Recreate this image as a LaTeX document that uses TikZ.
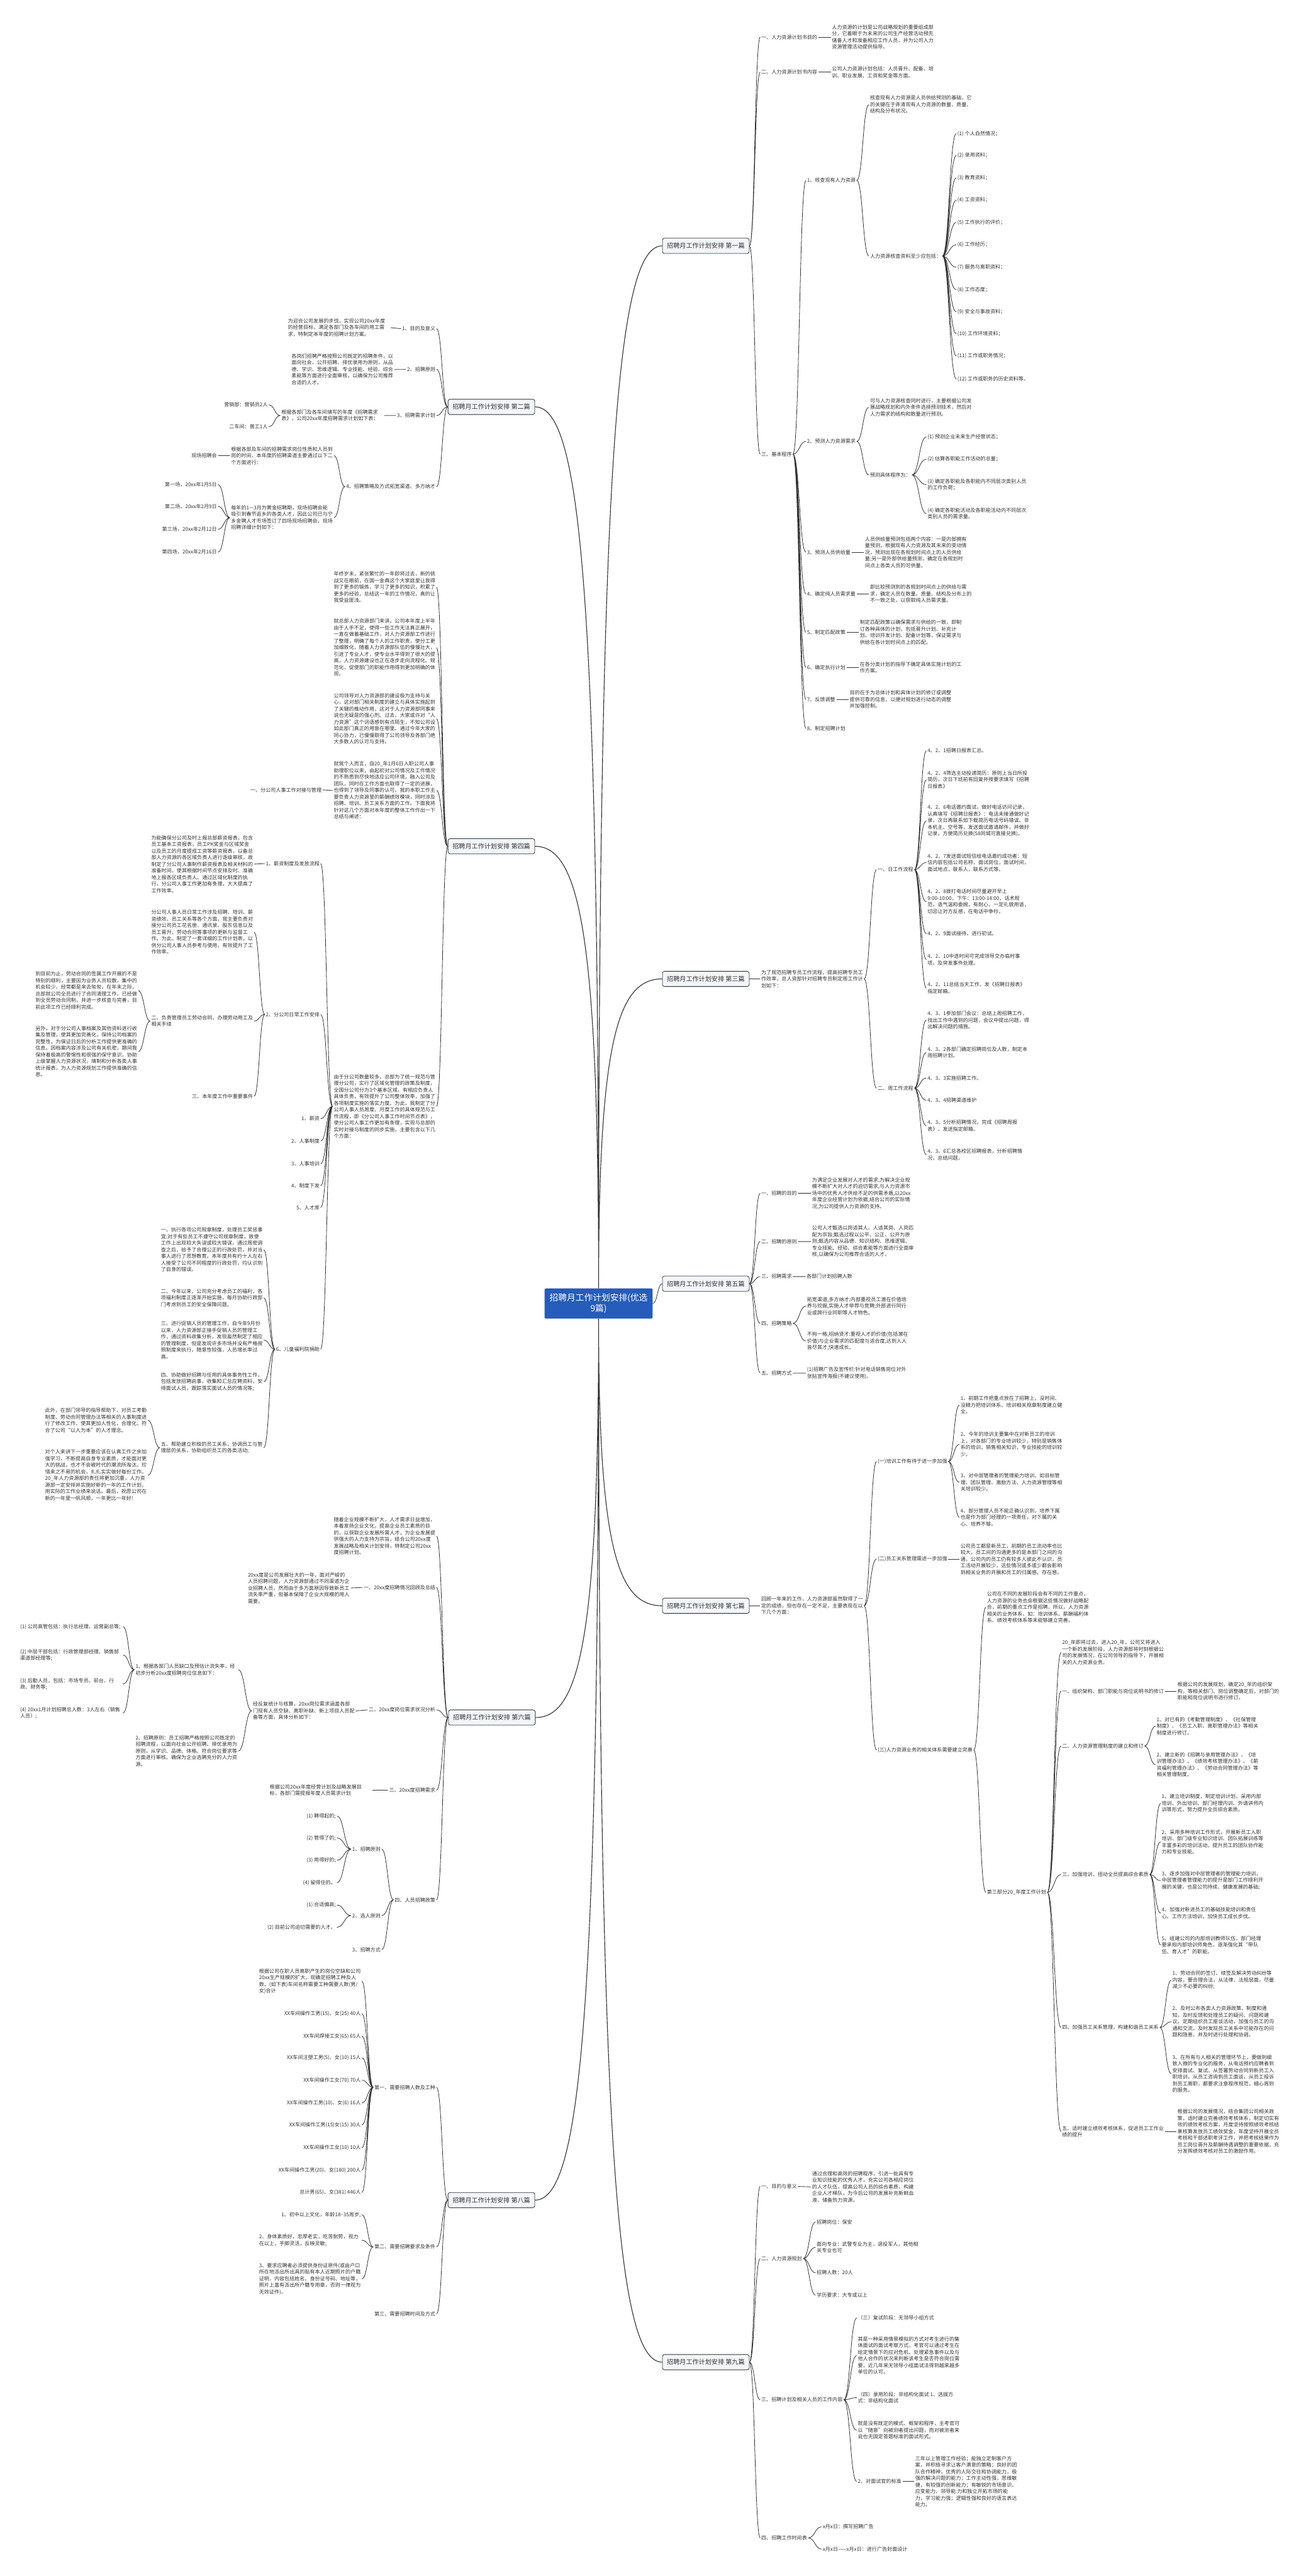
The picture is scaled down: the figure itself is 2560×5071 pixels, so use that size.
\documentclass[tikz,border=0pt]{standalone}
\usepackage{fontspec}
\setmainfont{Noto Sans CJK SC}
\XeTeXlinebreaklocale "zh"
\XeTeXlinebreakskip=0pt plus 1pt
\usetikzlibrary{calc}
\definecolor{rootblue}{RGB}{38,92,186}
\definecolor{ink}{RGB}{51,51,51}
\definecolor{topicfill}{RGB}{242,245,249}

\begin{document}
\begin{tikzpicture}[x=1pt,y=-1pt,
  every node/.style={inner xsep=2pt,inner ysep=0pt,text=ink,font=\fontsize{10}{13}\selectfont},
  para/.style={text width=200pt,align=flush left},
  topic/.style={draw=ink,line width=1pt,rounded corners=4pt,fill=topicfill,
    inner xsep=9pt,minimum height=30pt,font=\fontsize{12.5}{15}\selectfont},
  rootnode/.style={fill=rootblue,text=white,rounded corners=3pt,align=center,
    inner xsep=10pt,inner ysep=10pt,font=\fontsize{17}{22}\selectfont},
  link/.style={ink,line width=1pt,
    to path={.. controls ($(\tikztostart)!0.5!(\tikztotarget|-\tikztostart)$)
      and ($(\tikztotarget)!0.5!(\tikztostart|-\tikztotarget)$) .. (\tikztotarget)}},
  trunk/.style={ink,line width=1.4pt,
    to path={.. controls ($(\tikztostart)!0.8!(\tikztostart|-\tikztotarget)$)
      and ($(\tikztotarget)!0.7!(\tikztostart|-\tikztotarget)$) .. (\tikztotarget)}}]
\useasboundingbox[fill=white] (0,0) rectangle (2560,5071);

% centre and the nine topics
\node[rootnode] (root) at (1178,2566) {招聘月工作计划安排(优选\\9篇)};
\node[topic] (t1) at (1389,484) {招聘月工作计划安排 第一篇};
\node[topic] (t2) at (967,801) {招聘月工作计划安排 第二篇};
\node[topic] (t3) at (1389,1927) {招聘月工作计划安排 第三篇};
\node[topic] (t4) at (967,1666) {招聘月工作计划安排 第四篇};
\node[topic] (t5) at (1389,2527) {招聘月工作计划安排 第五篇};
\node[topic] (t6) at (968,3381) {招聘月工作计划安排 第六篇};
\node[topic] (t7) at (1389,3161) {招聘月工作计划安排 第七篇};
\node[topic] (t8) at (967,4331) {招聘月工作计划安排 第八篇};
\node[topic] (t9) at (1389,4650) {招聘月工作计划安排 第九篇};

\draw[trunk] (root.north) to (t1.west) (root.north) to (t3.west)
  (root.north) to (t2.east) (root.north) to (t4.east)
  (root.south) to (t7.west) (root.south) to (t9.west)
  (root.south) to (t6.east) (root.south) to (t8.east);
\draw[link] (root.east) to (t5.west);

% 第一篇
\node[anchor=west] (t1a) at (1496,73) {一、人力资源计划书目的};
\node[para,anchor=west] (t1a1) at (1635,73) {人力资源的计划是公司战略规划的重要组成部分，它着眼于为未来的公司生产经营活动预先储备人才和准备相应工作人员，并为公司人力资源管理活动提供指导。};
\node[anchor=west] (t1b) at (1496,142) {二、人力资源计划书内容};
\node[para,anchor=west] (t1b1) at (1635,142) {公司人力资源计划包括：人员晋升、配备、培训、职业发展、工资和奖金等方面。};
\node[anchor=west] (t1c) at (1496,894) {三、基本程序};
\node[anchor=west] (t1c1) at (1586,355) {1、核查现有人力资源};
\node[para,anchor=west] (t1c1a) at (1710,206) {核查现有人力资源是人员供给预测的基础，它的关键在于弄清现有人力资源的数量、质量、结构及分布状况。};
\node[anchor=west] (t1c1b) at (1710,504) {人力资源核查资料至少应包括：};
\node[anchor=west] (t1c1b1) at (1882,263) {(1) 个人自然情况；};
\node[anchor=west] (t1c1b2) at (1882,306) {(2) 录用资料；};
\node[anchor=west] (t1c1b3) at (1882,350) {(3) 教育资料；};
\node[anchor=west] (t1c1b4) at (1882,394) {(4) 工资资料；};
\node[anchor=west] (t1c1b5) at (1882,438) {(5) 工作执行的评价；};
\node[anchor=west] (t1c1b6) at (1882,482) {(6) 工作经历；};
\node[anchor=west] (t1c1b7) at (1882,526) {(7) 服务与离职资料；};
\node[anchor=west] (t1c1b8) at (1882,570) {(8) 工作态度；};
\node[anchor=west] (t1c1b9) at (1882,614) {(9) 安全与事故资料；};
\node[anchor=west] (t1c1b10) at (1882,657) {(10) 工作环境资料；};
\node[anchor=west] (t1c1b11) at (1882,701) {(11) 工作或职务情况；};
\node[anchor=west] (t1c1b12) at (1882,746) {(12) 工作或职务的历史资料等。};
\node[anchor=west] (t1c2) at (1586,869) {2、预测人力资源需求};
\node[para,anchor=west] (t1c2a) at (1710,802) {可与人力资源核查同时进行，主要根据公司发展战略规划和内外条件选择预测技术，然后对人力需求的结构和数量进行预测。};
\node[anchor=west] (t1c2b) at (1710,935) {预测具体程序为：};
\node[anchor=west] (t1c2b1) at (1823,860) {(1) 预测企业未来生产经营状态；};
\node[anchor=west] (t1c2b2) at (1823,904) {(2) 估算各职能工作活动的总量；};
\node[para,anchor=west] (t1c2b3) at (1823,954) {(3) 确定各职能及各职能内不同层次类别人员的工作负荷；};
\node[para,anchor=west] (t1c2b4) at (1823,1011) {(4) 确定各职能活动及各职能活动内不同层次类别人员的需求量。};
\node[anchor=west] (t1c3) at (1586,1087) {3、预测人员供给量};
\node[para,anchor=west] (t1c3a) at (1700,1087) {人员供给量预测包括两个内容：一是内部拥有量预测，根据现有人力资源及其未来的变动情况，预测出现在各规划时间点上的人员供给量;另一是外部供给量预测，确定在各规划时间点上各类人员的可供量。};
\node[anchor=west] (t1c4) at (1586,1169) {4、确定纯人员需求量};
\node[para,anchor=west] (t1c4a) at (1710,1169) {即比较预测到的各规划时间点上的供给与需求，确定人员在数量、质量、结构及分布上的不一致之处，以获取纯人员需求量。};
\node[anchor=west] (t1c5) at (1586,1245) {5、制定匹配政策};
\node[para,anchor=west] (t1c5a) at (1690,1245) {制定匹配政策以确保需求与供给的一致，即制订各种具体的计划，包括晋升计划、补充计划、培训开发计划、配备计划等，保证需求与供给在各计划时间点上的匹配。};
\node[anchor=west] (t1c6) at (1586,1314) {6、确定执行计划};
\node[para,anchor=west] (t1c6a) at (1690,1314) {在各分类计划的指导下确定具体实施计划的工作方案。};
\node[anchor=west] (t1c7) at (1586,1377) {7、反馈调整};
\node[para,anchor=west] (t1c7a) at (1670,1377) {目的在于为总体计划和具体计划的修订或调整提供可靠的信息，以便对规划进行动态的调整并加强控制。};
\node[anchor=west] (t1c8) at (1586,1434) {8、制定招聘计划};

\draw[link] (t1.east) to (t1a.west) (t1.east) to (t1b.west) (t1.east) to (t1c.west);
\draw[link] (t1a.east) to (t1a1.west) (t1b.east) to (t1b1.west);
\draw[link] (t1c.east) to (t1c1.west) (t1c.east) to (t1c2.west) (t1c.east) to (t1c3.west)
  (t1c.east) to (t1c4.west) (t1c.east) to (t1c5.west) (t1c.east) to (t1c6.west)
  (t1c.east) to (t1c7.west) (t1c.east) to (t1c8.west);
\draw[link] (t1c1.east) to (t1c1a.west) (t1c1.east) to (t1c1b.west);
\draw[link] (t1c1b.east) to (t1c1b1.west) (t1c1b.east) to (t1c1b2.west)
  (t1c1b.east) to (t1c1b3.west) (t1c1b.east) to (t1c1b4.west)
  (t1c1b.east) to (t1c1b5.west) (t1c1b.east) to (t1c1b6.west)
  (t1c1b.east) to (t1c1b7.west) (t1c1b.east) to (t1c1b8.west)
  (t1c1b.east) to (t1c1b9.west) (t1c1b.east) to (t1c1b10.west)
  (t1c1b.east) to (t1c1b11.west) (t1c1b.east) to (t1c1b12.west);
\draw[link] (t1c2.east) to (t1c2a.west) (t1c2.east) to (t1c2b.west);
\draw[link] (t1c2b.east) to (t1c2b1.west) (t1c2b.east) to (t1c2b2.west)
  (t1c2b.east) to (t1c2b3.west) (t1c2b.east) to (t1c2b4.west);
\draw[link] (t1c3.east) to (t1c3a.west) (t1c4.east) to (t1c4a.west)
  (t1c5.east) to (t1c5a.west) (t1c6.east) to (t1c6a.west) (t1c7.east) to (t1c7a.west);

% 第三篇
\node[para,anchor=west] (t3a) at (1496,1927) {为了规范招聘专员工作流程，提高招聘专员工作效率，总人资部针对招聘专员制定周工作计划如下：};
\node[anchor=west] (t3a1) at (1725,1712) {一、日工作流程};
\node[anchor=west] (t3a1a) at (1823,1478) {4、2、1招聘日报表汇总。};
\node[para,anchor=west] (t3a1b) at (1823,1535) {4、2、4筛选主动投递简历：原则上当日所投简历，次日下班前有回复并按要求填写《招聘日报表》};
\node[para,anchor=west] (t3a1c) at (1823,1616) {4、2、6电话邀约面试，做好电话访问记录，认真填写《招聘日报表》：电话未接通做好记录，次日再联系如下载简历电话号码错误、非本机主、空号等，发送面试邀请邮件，并做好记录，方便简历兑换(58同城可直接兑换)。};
\node[para,anchor=west] (t3a1d) at (1823,1698) {4、2、7发送面试短信给电话邀约成功者：短信内容包括公司名称，面试岗位，面试时间，面试地点，联系人，联系方式等。};
\node[para,anchor=west] (t3a1e) at (1823,1775) {4、2、8拨打电话时间尽量避开早上9:00-10:00，下午：13:00-14:00，话术规范，语气温和委婉，有耐心，一定礼貌用语，切忌让对方反感，在电话中争吵。};
\node[anchor=west] (t3a1f) at (1823,1838) {4、2、9面试接待，进行初试。};
\node[para,anchor=west] (t3a1g) at (1823,1889) {4、2、10中途时间可完成领导交办临时事项，及突发事件处理。};
\node[para,anchor=west] (t3a1h) at (1823,1945) {4、2、11总结当天工作，发《招聘日报表》指定邮箱。};
\node[anchor=west] (t3a2) at (1725,2142) {二、周工作流程};
\node[para,anchor=west] (t3a2a) at (1823,2008) {4、3、1参加部门会议：总结上周招聘工作，找出工作中遇到的问题，会议中提出问题，得出解决问题的措施。};
\node[para,anchor=west] (t3a2b) at (1823,2072) {4、3、2各部门确定招聘岗位及人数，制定本周招聘计划。};
\node[anchor=west] (t3a2c) at (1823,2122) {4、3、3实施招聘工作。};
\node[anchor=west] (t3a2d) at (1823,2166) {4、3、4招聘渠道维护};
\node[para,anchor=west] (t3a2e) at (1823,2216) {4、3、5分析招聘情况，完成《招聘周报表》，发送指定邮箱。};
\node[para,anchor=west] (t3a2f) at (1823,2273) {4、3、6汇总各校区招聘报表，分析招聘情况，总结问题。};

\draw[link] (t3.east) to (t3a.west);
\draw[link] (t3a.east) to (t3a1.west) (t3a.east) to (t3a2.west);
\draw[link] (t3a1.east) to (t3a1a.west) (t3a1.east) to (t3a1b.west) (t3a1.east) to (t3a1c.west)
  (t3a1.east) to (t3a1d.west) (t3a1.east) to (t3a1e.west) (t3a1.east) to (t3a1f.west)
  (t3a1.east) to (t3a1g.west) (t3a1.east) to (t3a1h.west);
\draw[link] (t3a2.east) to (t3a2a.west) (t3a2.east) to (t3a2b.west) (t3a2.east) to (t3a2c.west)
  (t3a2.east) to (t3a2d.west) (t3a2.east) to (t3a2e.west) (t3a2.east) to (t3a2f.west);

% 第五篇
\node[anchor=west] (t5a) at (1496,2349) {一、招聘的目的};
\node[para,anchor=west] (t5a1) at (1596,2349) {为满足企业发展对人才的需求,为解决企业规模不断扩大对人才的迫切需求,与人力资源市场中的优秀人才供给不足的供需矛盾,以20xx年度企业经营计划为依据,结合公司的实际情况,为公司提供人力资源的支持。};
\node[anchor=west] (t5b) at (1496,2444) {二、招聘的原则};
\node[para,anchor=west] (t5b1) at (1596,2444) {公司人才甄选以岗适其人、人适其岗、人岗匹配为宗旨;甄选过程以公平、公正、公开为原则;甄选内容从品德、知识结构、思维逻辑、专业技能、经验、综合素能等方面进行全面审核,以确保为公司推荐合适的人才。};
\node[anchor=west] (t5c) at (1496,2513) {三、招聘需求};
\node[anchor=west] (t5c1) at (1585,2513) {各部门计划招聘人数};
\node[anchor=west] (t5d) at (1496,2605) {四、招聘策略};
\node[para,anchor=west] (t5d1) at (1586,2571) {拓宽渠道,多方纳才:内部重视员工潜在价值培养与挖掘,实施人才举荐与竞聘;外部进行同行业或跨行业同职等人才物色。};
\node[para,anchor=west] (t5d2) at (1586,2640) {不拘一格,招纳贤才:重视人才的价值(包括潜在价值)与企业需求的匹配度与适合度,达到人人皆尽其才,快速成长。};
\node[anchor=west] (t5e) at (1496,2703) {五、招聘方式};
\node[para,anchor=west] (t5e1) at (1586,2703) {(1)招聘广告及宣传栏:针对电话销售岗位对外张贴宣传海报(不建议使用)。};

\draw[link] (t5.east) to (t5a.west) (t5.east) to (t5b.west) (t5.east) to (t5c.west)
  (t5.east) to (t5d.west) (t5.east) to (t5e.west);
\draw[link] (t5a.east) to (t5a1.west) (t5b.east) to (t5b1.west) (t5c.east) to (t5c1.west)
  (t5d.east) to (t5d1.west) (t5d.east) to (t5d2.west) (t5e.east) to (t5e1.west);

% 第七篇
\node[para,anchor=west] (t7a) at (1496,3161) {回顾一年来的工作，人力资源部虽然取得了一定的成绩，但也存在一定不足，主要表现在以下几个方面：};
\node[anchor=west] (t7a1) at (1725,2877) {(一)培训工作有待于进一步加强};
\node[para,anchor=west] (t7a1a) at (1888,2766) {1、前期工作把重点放在了招聘上，没时间、没精力把培训体系、培训相关规章制度建立健全。};
\node[para,anchor=west] (t7a1b) at (1888,2843) {2、今年的培训主要集中在对新员工的培训上，对各部门的专业培训较少，特别是销售体系的培训，销售相关知识，专业技能的培训较少。};
\node[para,anchor=west] (t7a1c) at (1888,2918) {3、对中层管理者的管理能力培训，如目标管理、团队管理、激励方法、人力资源管理等相关培训较少。};
\node[para,anchor=west] (t7a1d) at (1888,2987) {4、部分管理人员不能正确认识到，培养下属也是作为部门经理的一项责任，对下属的关心、培养不够。};
\node[anchor=west] (t7a2) at (1725,3069) {(二)员工关系管理需进一步加强};
\node[para,anchor=west] (t7a2a) at (1888,3069) {公司员工都是新员工，前期的员工流动率也比较大，员工间的沟通更多的是本部门之间的沟通，公司内的员工仍有较多人彼此不认识，员工活动开展较少，这些情况或多或少都会影响到相关业务的开展和员工的归属感、存在感。};
\node[anchor=west] (t7a3) at (1725,3445) {(三)人力资源业务的相关体系需要建立完善};
\node[para,anchor=west] (t7a3a) at (1940,3164) {公司在不同的发展阶段会有不同的工作重点，人力资源的业务也会根据这些情况做好战略配合，前期的重点工作是招聘，所以，人力资源相关的业务体系，如：培训体系、薪酬福利体系、绩效考核体系等未能够建立完善。};
\node[anchor=west] (t7a3b) at (1940,3725) {第三部分20\_年度工作计划};
\node[para,anchor=west] (t7b0) at (2088,3253) {20\_年即将过去，进入20\_年，公司又将进入一个新的发展阶段，人力资源部将时刻根据公司的发展情况，在公司领导的指导下，开展相关的人力资源业务。};
\node[anchor=west] (t7b1) at (2088,3329) {一、组织架构、部门职能与岗位说明书的修订};
\node[para,anchor=west] (t7b1a) at (2315,3329) {根据公司的发展规划，确定20\_年的组织架构，等相关部门、岗位调整确定后，对部门的职能和岗位说明书进行修订。};
\node[anchor=west] (t7b2) at (2088,3437) {二、人力资源管理制度的建立和修订};
\node[para,anchor=west] (t7b2a) at (2274,3398) {1、对已有的《考勤管理制度》、《社保管理制度》、《员工入职、离职管理办法》等相关制度进行修订。};
\node[para,anchor=west] (t7b2b) at (2274,3474) {2、建立新的《招聘与录用管理办法》、《培训管理办法》、《绩效考核管理办法》、《薪资福利管理办法》、《劳动合同管理办法》等相关管理制度。};
\node[anchor=west] (t7b3) at (2088,3690) {三、加强培训，扭动全员提高综合素质};
\node[para,anchor=west] (t7b3a) at (2284,3550) {1、建立培训制度，制定培训计划，采用内部培训、外出培训、部门经理内训、外请讲师内训等形式，努力提升全员综合素质。};
\node[para,anchor=west] (t7b3b) at (2284,3626) {2、采用多种培训工作形式，开展新员工入职培训、部门级专业知识培训、团队拓展训练等丰富多彩的培训活动，提升员工的团队协作能力和专业技能。};
\node[para,anchor=west] (t7b3c) at (2284,3702) {3、逐步加强对中层管理者的管理能力培训，中层管理者管理能力的提升是部门工作顺利开展的关键，也是公司持续、健康发展的基础;};
\node[para,anchor=west] (t7b3d) at (2284,3766) {4、加强对新进员工的基础技能培训和责任心、工作方法培训，加快员工成长步伐。};
\node[para,anchor=west] (t7b3e) at (2284,3829) {5、组建公司的内部培训教师队伍，部门经理要承担内部培训师角色，逐渐强化其“带队伍、育人才”的职能。};
\node[anchor=west] (t7b4) at (2088,3991) {四、加强员工关系管理，构建和谐员工关系};
\node[para,anchor=west] (t7b4a) at (2305,3898) {1、劳动合同的签订、续签及解决劳动纠纷等内容，要合理合法，从法律、法规层面，尽量减少不必要的纠纷;};
\node[para,anchor=west] (t7b4b) at (2305,3980) {2、及时公布各类人力资源政策、制度和通知，及时反馈和处理员工的疑问、问题和建议。定期组织员工座谈活动，加强与员工的沟通和交流，及时发现员工关系中可能存在的问题和隐患，并及时进行处理和协调。};
\node[para,anchor=west] (t7b4c) at (2305,4082) {3、在所有与人相关的管理环节上，要做到细致入微的专业化的服务，从电话预约应聘者到安排面试、复试，从签署劳动合同到新员工入职培训，从员工咨询到员工面谈，从员工投诉到员工离职，都要求注意程序规范，细心周到的服务。};
\node[para,anchor=west] (t7b5) at (2088,4196) {五、适时建立绩效考核体系，促进员工工作业绩的提升};
\node[para,anchor=west] (t7b5a) at (2315,4196) {根据公司的发展情况，结合集团公司相关政策，适时建立完善绩效考核体系，制定切实有效的绩效考核方案，月度坚持按照绩效考核结果核算发放员工绩效奖金，年度坚持开展全员考核和干部述职考评工作，并把考核结果作为员工岗位晋升及薪酬待遇调整的重要依据，充分发挥绩效考核对员工的激励作用。};

\draw[link] (t7.east) to (t7a.west);
\draw[link] (t7a.east) to (t7a1.west) (t7a.east) to (t7a2.west) (t7a.east) to (t7a3.west);
\draw[link] (t7a1.east) to (t7a1a.west) (t7a1.east) to (t7a1b.west)
  (t7a1.east) to (t7a1c.west) (t7a1.east) to (t7a1d.west);
\draw[link] (t7a2.east) to (t7a2a.west);
\draw[link] (t7a3.east) to (t7a3a.west) (t7a3.east) to (t7a3b.west);
\draw[link] (t7a3b.east) to (t7b0.west) (t7a3b.east) to (t7b1.west) (t7a3b.east) to (t7b2.west)
  (t7a3b.east) to (t7b3.west) (t7a3b.east) to (t7b4.west) (t7a3b.east) to (t7b5.west);
\draw[link] (t7b1.east) to (t7b1a.west) (t7b5.east) to (t7b5a.west);
\draw[link] (t7b2.east) to (t7b2a.west) (t7b2.east) to (t7b2b.west);
\draw[link] (t7b3.east) to (t7b3a.west) (t7b3.east) to (t7b3b.west) (t7b3.east) to (t7b3c.west)
  (t7b3.east) to (t7b3d.west) (t7b3.east) to (t7b3e.west);
\draw[link] (t7b4.east) to (t7b4a.west) (t7b4.east) to (t7b4b.west) (t7b4.east) to (t7b4c.west);

% 第九篇
\node[anchor=west] (t9a) at (1496,4304) {一、目的与意义};
\node[para,anchor=west] (t9a1) at (1596,4305) {通过合理和高效的招聘程序，引进一批具有专业知识技能的优秀人才，充实公司各相应岗位的人才队伍，提高公司人员的综合素质，构建企业人才梯队，为今后公司的发展补充新鲜血液、储备热力资源。};
\node[anchor=west] (t9b) at (1496,4446) {二、人力资源规划};
\node[anchor=west] (t9b1) at (1605,4374) {招聘岗位：保安};
\node[para,anchor=west] (t9b2) at (1605,4424) {面向专业：武警专业为主，退役军人，其他相关专业也可};
\node[anchor=west] (t9b3) at (1605,4474) {招聘人数：20人};
\node[anchor=west] (t9b4) at (1605,4518) {学历要求：大专或以上};
\node[anchor=west] (t9c) at (1496,4724) {三、招聘计划及相关人员的工作内容};
\node[anchor=west] (t9c1) at (1686,4563) {（三）复试阶段：无领导小组方式};
\node[para,anchor=west] (t9c2) at (1686,4637) {其是一种采用情景模拟的方式对考生进行的集体面试的面试考察方式，考官可以通过考生在给定情景下的应对危机、处理紧急事件以及与他人合作的状况来判断该考生是否符合岗位需要，近几年来无领导小组面试法得到越来越多单位的认可。};
\node[para,anchor=west] (t9c3) at (1686,4720) {（四）录用阶段：非结构化面试 1、选拔方式：非结构化面试};
\node[para,anchor=west] (t9c4) at (1686,4784) {就是没有既定的模式、框架和程序，主考官可以“随意”向被测者提出问题，而对被测者来说也无固定答题标准的面试形式。};
\node[anchor=west] (t9c5) at (1686,4885) {2、对面试官的标准};
\node[para,anchor=west] (t9c5a) at (1799,4885) {三年以上管理工作经验；能独立定制客户方案，并积极寻求让客户满意的策略；良好的团队合作精神，优秀的人际交往和协调能力，极强的解决问题的能力；工作主动性强，思维敏捷，有较强的创新能力；有敏锐的市场意识、应变能力、领导能 力和独立开拓市场的能力，学习能力强；逻辑性强和良好的语言表达能力。};
\node[anchor=west] (t9d) at (1496,4996) {四、招聘工作时间表};
\node[anchor=west] (t9d1) at (1617,4974) {x月x日：撰写招聘广告};
\node[anchor=west] (t9d2) at (1617,5018) {x月x日——x月x日：进行广告封面设计};

\draw[link] (t9.east) to (t9a.west) (t9.east) to (t9b.west) (t9.east) to (t9c.west) (t9.east) to (t9d.west);
\draw[link] (t9a.east) to (t9a1.west);
\draw[link] (t9b.east) to (t9b1.west) (t9b.east) to (t9b2.west) (t9b.east) to (t9b3.west) (t9b.east) to (t9b4.west);
\draw[link] (t9c.east) to (t9c1.west) (t9c.east) to (t9c2.west) (t9c.east) to (t9c3.west)
  (t9c.east) to (t9c4.west) (t9c.east) to (t9c5.west);
\draw[link] (t9c5.east) to (t9c5a.west);
\draw[link] (t9d.east) to (t9d1.west) (t9d.east) to (t9d2.west);

% 第二篇
\node[anchor=east] (t2a) at (859,647) {1、目的及意义};
\node[para,anchor=east] (t2a1) at (769,645) {为迎合公司发展的步伐，实现公司20xx年度的经营目标，满足各部门及各车间的用工需求，特制定本年度的招聘计划方案。};
\node[anchor=east] (t2b) at (859,727) {2、招聘原则};
\node[para,anchor=east] (t2b1) at (776,727) {各岗们招聘严格按照公司既定的招聘条件，以面向社会、公开招聘、择优录用为原则，从品德、学识、思维逻辑、专业技能、经验、综合素能等方面进行全面审核，以确保为公司推荐合适的人才。};
\node[anchor=east] (t2c) at (859,818) {3、招聘需求计划};
\node[para,anchor=east] (t2c1) at (756,818) {根据各部门及各车间填写的年度《招聘需求表》，公司20xx年度招聘需求计划如下表：};
\node[anchor=east] (t2c1a) at (529,797) {营销部：营销员2人};
\node[anchor=east] (t2c1b) at (529,840) {二车间：普工1人};
\node[anchor=east] (t2d) at (859,958) {4、招聘策略及方式拓宽渠道、多方纳才};
\node[para,anchor=east] (t2d1) at (657,897) {根据各部及车间的招聘需求岗位性质和人员到岗的时间，本年度的招聘渠道主要通过以下二个方面进行：};
\node[anchor=east] (t2d1a) at (429,897) {现场招聘会};
\node[para,anchor=east] (t2d2) at (657,1019) {每年的1—3月为黄金招聘期，现场招聘会能吸引到春节返乡的各类人才，因此公司已与宁乡金聘人才市场签订了四场现场招聘会，现场招聘详细计划如下：};
\node[anchor=east] (t2d2a) at (429,954) {第一场，20xx年1月5日};
\node[anchor=east] (t2d2b) at (429,997) {第二场，20xx年2月9日};
\node[anchor=east] (t2d2c) at (429,1042) {第三场，20xx年2月12日};
\node[anchor=east] (t2d2d) at (429,1087) {第四场，20xx年2月16日};

\draw[link] (t2.west) to (t2a.east) (t2.west) to (t2b.east) (t2.west) to (t2c.east) (t2.west) to (t2d.east);
\draw[link] (t2a.west) to (t2a1.east) (t2b.west) to (t2b1.east) (t2c.west) to (t2c1.east);
\draw[link] (t2c1.west) to (t2c1a.east) (t2c1.west) to (t2c1b.east);
\draw[link] (t2d.west) to (t2d1.east) (t2d.west) to (t2d2.east) (t2d1.west) to (t2d1a.east);
\draw[link] (t2d2.west) to (t2d2a.east) (t2d2.west) to (t2d2b.east)
  (t2d2.west) to (t2d2c.east) (t2d2.west) to (t2d2d.east);

% 第四篇
\node[para,anchor=east] (t4a) at (859,1156) {年终岁末，紧张繁忙的一年即将过去，新的挑战又在眼前，在国一金典这个大家庭里让我得到了更多的锻炼，学习了更多的知识，积累了更多的经验，总结这一年的工作情况，真的让我受益匪浅。};
\node[para,anchor=east] (t4b) at (859,1275) {就总部人力资源部门来讲，公司本年度上半年由于人手不足，使得一些工作无法真正展开，一直在做着基础工作，对人力资源部工作进行了整理，明确了每个人的工作职责，使分工更加细致化，随着人力资源部队伍的慢慢壮大，引进了专业人才，使专业水平得到了很大的提高，人力资源建设也正在逐步走向流程化、规范化，促使部门的职能作用得到更加明确的体现。};
\node[para,anchor=east] (t4c) at (859,1415) {公司领导对人力资源部的建设极为支持与关心，这对部门相关制度的建立与具体实施起到了关键的推动作用，这对于人力资源部同事来说也无疑是的强心剂。过去，大家或许对“人力资源”这个词语感到有点陌生，不知公司设如此部门真正的用意在哪里。通过今年大家的同心协力，已慢慢取得了公司领导及各部门绝大多数人的认可与支持。};
\node[para,anchor=east] (t4d) at (859,1556) {就我个人而言，自20\_年1月6日入职公司人事助理职位以来，由起初对公司情况及工作情况的不熟悉到尽快地适应公司环境，融入公司及团队，同时在工作方面也取得了一定的进展，也得到了领导及同事的认可。我的本职工作主要负责人力资源里的薪酬绩效模块，同时涉及招聘、培训、员工关系方面的工作。下面我将针对这几个方面对本年度的整体工作作出一下总结与阐述：};
\node[anchor=east] (t4d1) at (635,1555) {一、分公司人事工作对接与管理};
\node[para,anchor=east] (t4e) at (859,2178) {由于分公司数量较多，总部为了统一规范与管理分公司，实行了区域化管理的政策及制度，全国分公司分为3个基本区域，有相应负责人具体负责，有效提升了公司整体效率，加强了各项制度实施的落实力度。为此，我制定了分公司人事人员周度、月度工作的具体规范与工作流程，即《分公司人事工作时间节点表》，使分公司人事工作更加有条理，实现与总部的实时对接与制度的同步实施，主要包含以下几个方面：};
\node[anchor=east] (t4e1) at (631,1700) {1、薪资制度及发放流程};
\node[para,anchor=east] (t4e1a) at (500,1701) {为能确保分公司及时上报总部薪资报表，包含员工基本工资报表，员工PK奖金与区域奖金以及员工的月度提成工资等薪资报表，以备总部人力资源的各区域负责人进行逐级审核，故制定了分公司人事制作薪资报表及相关材料的准备时间，使其根据时间节点安排及时、准确地上报各区域负责人。通过区域化制度的执行，分公司人事工作更加有条理，大大提高了工作效率。};
\node[anchor=east] (t4e2) at (631,1997) {2、分公司日常工作安排};
\node[para,anchor=east] (t4e2a) at (500,1835) {分公司人事人员日常工作涉及招聘、培训、薪资绩效、员工关系等各个方面，我主要负责对接分公司员工花名册、通讯录、股东信息以及员工晋升、劳动合同等事项的更新与监督工作。为此，制定了一套详细的工作计划表，以供分公司人事人员参考与使用，有效提升了工作效率。};
\node[para,anchor=east] (t4e2b) at (500,2010) {二、负责管理员工劳动合同，办理劳动用工及相关手续};
\node[para,anchor=east] (t4e2b1) at (272,1950) {到目前为止，劳动合同的签属工作开展的不是特别的顺利，主要因为业务人员较散，集中的机会较少，经常都是来去匆匆，在年末之际，总部就公司全员进行了合同清理工作，已经做到全员劳动合同制，并进一步核查与完善，目前此项工作已经顺利完成。};
\node[para,anchor=east] (t4e2b2) at (272,2070) {另外，对于分公司人事档案及其他资料进行收集及管理，使其更加完善化，保持公司档案的完整性，为保证日后的分析工作提供更准确的信息。因档案内容涉及公司有关机密，期间我保持着极高的警惕性和很强的保守意识，协助上级掌握人力资源状况，填制和分析各类人事统计报表，为人力资源规划工作提供准确的信息。};
\node[anchor=east] (t4e2c) at (500,2158) {三、本年度工作中重要事件};
\node[anchor=east] (t4e3) at (631,2202) {1、薪资};
\node[anchor=east] (t4e4) at (631,2246) {2、人事制度};
\node[anchor=east] (t4e5) at (631,2291) {3、人事培训};
\node[anchor=east] (t4e6) at (631,2334) {4、制度下发};
\node[anchor=east] (t4e7) at (631,2377) {5、人才库};
\node[anchor=east] (t4e8) at (631,2656) {6、儿童福利院捐助};
\node[para,anchor=east] (t4e8a) at (519,2460) {一、执行各项公司规章制度，处理员工奖惩事宜:对于有些员工不遵守公司规章制度，致使工作上出现较大失误或较大错误，通过周密调查之后，给予了合理公正的行政处罚，并对当事人进行了思想教育。本年度共有约十人左右人接受了公司不同程度的行政处罚，均认识到了自身的错误。};
\node[para,anchor=east] (t4e8b) at (519,2555) {二、今年以来，公司充分考虑员工的福利，各项福利制度正逐渐开始实施，每月协助行政部门考虑到员工的安全保障问题。};
\node[para,anchor=east] (t4e8c) at (519,2638) {三、进行促销人员的管理工作，自今年9月份以来，人力资源部正接手促销人员的管理工作，通过资料收集分析，发现虽然制定了相应的管理制度，但是发现许多市场并没有严格按照制度来执行，随意性较强，人员增长率过高。};
\node[para,anchor=east] (t4e8d) at (519,2720) {四、协助做好招聘与任用的具体事务性工作，包括发放招聘启事，收集和汇总应聘资料，安排面试人员，跟踪落实面试人员的情况等;};
\node[para,anchor=east] (t4e8e) at (519,2850) {五、帮助建立积极的员工关系，协调员工与管理层的关系，协助组织员工的各类活动;};
\node[para,anchor=east] (t4e8e1) at (291,2796) {此外，在部门领导的指导帮助下，对员工考勤制度、劳动合同管理办法等相关的人事制度进行了修改工作，使其更加人性化，合理化，符合了公司“以人为本”的人才理念。};
\node[para,anchor=east] (t4e8e2) at (291,2904) {对个人来讲下一步重要应该在认真工作之余加强学习，不断提高自身专业素质，才能面对更大的挑战，也才不会被时代的潮流所淘汰。珍惜来之不易的机会，扎扎实实做好每份工作。20\_年人力资源部的责任将更加沉重，人力资源部一定安排并实施好新的一年的工作计划，用实际的工作业绩来说话。最后，祝愿公司在新的一年里一帆风顺，一年更比一年好!};

\draw[link] (t4.west) to (t4a.east) (t4.west) to (t4b.east) (t4.west) to (t4c.east)
  (t4.west) to (t4d.east) (t4.west) to (t4e.east);
\draw[link] (t4d.west) to (t4d1.east);
\draw[link] (t4e.west) to (t4e1.east) (t4e.west) to (t4e2.east) (t4e.west) to (t4e3.east)
  (t4e.west) to (t4e4.east) (t4e.west) to (t4e5.east) (t4e.west) to (t4e6.east)
  (t4e.west) to (t4e7.east) (t4e.west) to (t4e8.east);
\draw[link] (t4e1.west) to (t4e1a.east);
\draw[link] (t4e2.west) to (t4e2a.east) (t4e2.west) to (t4e2b.east) (t4e2.west) to (t4e2c.east);
\draw[link] (t4e2b.west) to (t4e2b1.east) (t4e2b.west) to (t4e2b2.east);
\draw[link] (t4e8.west) to (t4e8a.east) (t4e8.west) to (t4e8b.east) (t4e8.west) to (t4e8c.east)
  (t4e8.west) to (t4e8d.east) (t4e8.west) to (t4e8e.east);
\draw[link] (t4e8e.west) to (t4e8e1.east) (t4e8e.west) to (t4e8e2.east);

% 第六篇
\node[para,anchor=east] (t6a) at (859,3024) {随着企业规模不断扩大，人才需求日益增加，本着发扬企业文化，提高企业员工素质的目的，以获取企业发展所需人才，为企业发展提供强大的人力支持为宗旨，结合公司20xx度发展战略及相关计划安排，特制定公司20xx度招聘计划。};
\node[anchor=east] (t6b) at (859,3125) {一、20xx度招聘情况回顾及总结};
\node[para,anchor=east] (t6b1) at (690,3126) {20xx度是公司发展壮大的一年，面对严峻的人员招聘问题，人力资源部通过不同渠道为企业招聘人员，然而由于多方面原因导致新员工流失率严重，但基本保障了企业大规模的用人需要。};
\node[anchor=east] (t6c) at (859,3366) {二、20xx度岗位需求状况分析};
\node[para,anchor=east] (t6c1) at (700,3368) {经反复统计与核算，20xx岗位需求涵盖各部门现有人员空缺、离职补缺、新上项目人员配备等方面，具体分析如下：};
\node[para,anchor=east] (t6c1a) at (469,3287) {1、根据各部门人员缺口及预估计流失率，经初步分析20xx度招聘岗位信息如下：};
\node[para,anchor=east] (t6c1a1) at (242,3202) {(1) 公司高管包括：执行总经理、运营副总等;};
\node[para,anchor=east] (t6c1a2) at (242,3258) {(2) 中层干部包括：行政管理部经理、销售部渠道部经理等;};
\node[para,anchor=east] (t6c1a3) at (242,3315) {(3) 后勤人员，包括：市场专员、前台、行政、财务等;};
\node[para,anchor=east] (t6c1a4) at (242,3372) {(4) 20xx1月计划招聘总人数：3人左右（销售人员）;};
\node[para,anchor=east] (t6c1b) at (469,3447) {2、招聘原则：员工招聘严格按照公司既定的招聘流程，以面向社会公开招聘、择优录用为原则，从学识、品德、体格、符合岗位要求等方面进行审核。确保为企业选聘充分的人力资源。};
\node[anchor=east] (t6d) at (859,3524) {三、20xx度招聘需求};
\node[para,anchor=east] (t6d1) at (733,3524) {根据公司20xx年度经营计划及战略发展目标，各部门需提报年度人员需求计划};
\node[anchor=east] (t6e) at (859,3740) {四、人员招聘政策};
\node[anchor=east] (t6e1) at (751,3640) {1、招聘原则};
\node[anchor=east] (t6e1a) at (663,3575) {(1) 聘得起的;};
\node[anchor=east] (t6e1b) at (663,3618) {(2) 管得了的;};
\node[anchor=east] (t6e1c) at (663,3662) {(3) 用得好的;};
\node[anchor=east] (t6e1d) at (663,3706) {(4) 留得住的。};
\node[anchor=east] (t6e2) at (751,3771) {2、选人原则};
\node[anchor=east] (t6e2a) at (663,3750) {(1) 合适偏高;};
\node[anchor=east] (t6e2b) at (663,3794) {(2) 目前公司迫切需要的人才。};
\node[anchor=east] (t6e3) at (751,3838) {3、招聘方式};

\draw[link] (t6.west) to (t6a.east) (t6.west) to (t6b.east) (t6.west) to (t6c.east)
  (t6.west) to (t6d.east) (t6.west) to (t6e.east);
\draw[link] (t6b.west) to (t6b1.east) (t6c.west) to (t6c1.east) (t6d.west) to (t6d1.east);
\draw[link] (t6c1.west) to (t6c1a.east) (t6c1.west) to (t6c1b.east);
\draw[link] (t6c1a.west) to (t6c1a1.east) (t6c1a.west) to (t6c1a2.east)
  (t6c1a.west) to (t6c1a3.east) (t6c1a.west) to (t6c1a4.east);
\draw[link] (t6e.west) to (t6e1.east) (t6e.west) to (t6e2.east) (t6e.west) to (t6e3.east);
\draw[link] (t6e1.west) to (t6e1a.east) (t6e1.west) to (t6e1b.east)
  (t6e1.west) to (t6e1c.east) (t6e1.west) to (t6e1d.east);
\draw[link] (t6e2.west) to (t6e2a.east) (t6e2.west) to (t6e2b.east);

% 第八篇
\node[anchor=east] (t8a) at (859,4109) {第一、需要招聘人数及工种};
\node[para,anchor=east] (t8a0) at (712,3900) {根据公司在职人员离职产生的岗位空缺和公司20xx生产规模的扩大，现确定招聘工种及人数。(如下表)车间名称需要工种需要人数(男/女)合计};
\node[anchor=east] (t8a1) at (712,3964) {XX车间操作工男(15)、女(25) 40人};
\node[anchor=east] (t8a2) at (712,4008) {XX车间焊接工女(65) 65人};
\node[anchor=east] (t8a3) at (712,4051) {XX车间注塑工男(5)、女(10) 15人};
\node[anchor=east] (t8a4) at (712,4095) {XX车间操作工女(70) 70人};
\node[anchor=east] (t8a5) at (712,4140) {XX车间操作工男(10)、女(6) 16人};
\node[anchor=east] (t8a6) at (712,4183) {XX车间操作工男(15)女(15) 30人};
\node[anchor=east] (t8a7) at (712,4228) {XX车间操作工女(10) 10人};
\node[anchor=east] (t8a8) at (712,4272) {XX车间操作工男(20)、女(180) 200人};
\node[anchor=east] (t8a9) at (712,4316) {总计男(65)、女(381) 446人};
\node[anchor=east] (t8b) at (859,4423) {第二、需要招聘要求及条件};
\node[anchor=east] (t8b1) at (712,4360) {1、初中以上文化，年龄18\textasciitilde35周岁;};
\node[para,anchor=east] (t8b2) at (712,4410) {2、身体素质好，忠厚老实，吃苦耐劳，视力在以上，手脚灵活，反映灵敏;};
\node[para,anchor=east] (t8b3) at (712,4486) {3、要求应聘者必须提供身份证原件(或由户口所在地派出所出具的贴有本人近期照片的户籍证明，内容包括姓名、身份证号码、地址等，照片上盖有派出所户籍专用章，否则一律视为无效证件)。};
\node[anchor=east] (t8c) at (859,4555) {第三、需要招聘时间及方式};

\draw[link] (t8.west) to (t8a.east) (t8.west) to (t8b.east) (t8.west) to (t8c.east);
\draw[link] (t8a.west) to (t8a0.east) (t8a.west) to (t8a1.east) (t8a.west) to (t8a2.east)
  (t8a.west) to (t8a3.east) (t8a.west) to (t8a4.east) (t8a.west) to (t8a5.east)
  (t8a.west) to (t8a6.east) (t8a.west) to (t8a7.east) (t8a.west) to (t8a8.east)
  (t8a.west) to (t8a9.east);
\draw[link] (t8b.west) to (t8b1.east) (t8b.west) to (t8b2.east) (t8b.west) to (t8b3.east);
\end{tikzpicture}
\end{document}
